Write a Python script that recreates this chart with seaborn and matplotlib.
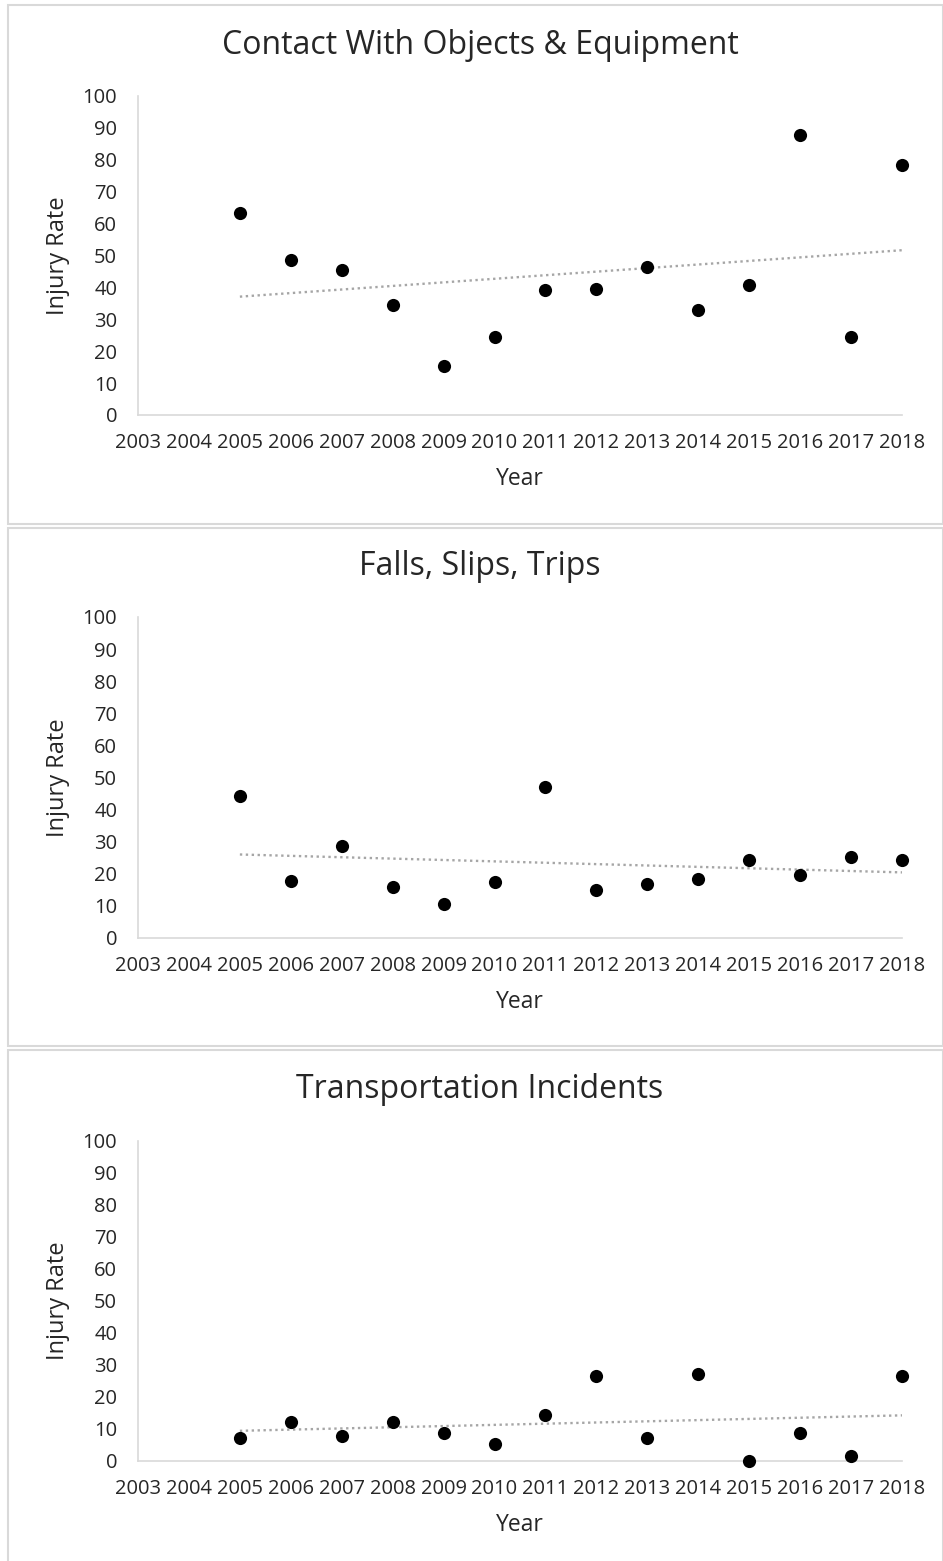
import numpy as np
import pandas as pd
import matplotlib
matplotlib.use("Agg")
import matplotlib.pyplot as plt
import seaborn as sns
from matplotlib.patches import Rectangle

# values
years = [2005, 2006, 2007, 2008, 2009, 2010, 2011, 2012, 2013, 2014, 2015, 2016, 2017, 2018]
contact = [63.3, 48.6, 45.5, 34.5, 15.4, 24.5, 39.2, 39.5, 46.4, 32.9, 40.8, 87.8, 24.5, 78.4]
falls = [44.2, 17.8, 28.7, 15.9, 10.6, 17.4, 47.0, 15.0, 16.8, 18.4, 24.3, 19.6, 25.2, 24.3]
transport = [7.2, 12.2, 7.8, 12.2, 8.8, 5.3, 14.4, 26.6, 7.2, 27.2, 0.0, 8.8, 1.6, 26.6]

titles = ["Contact With Objects & Equipment", "Falls, Slips, Trips", "Transportation Incidents"]
series = [contact, falls, transport]
x_ticks = list(range(2003, 2019))
y_ticks = list(range(0, 101, 10))

sns.set_theme(style="white")
plt.rcParams['font.family'] = ['Open Sans', 'DejaVu Sans']

W, H = 943, 1561
fig = plt.figure(figsize=(W / 100, H / 100), dpi=100)

# pixel layout of each panel: (box_top, box_bottom, axis_top, axis_bottom, title_y)
panels = [
    (5, 524, 96, 415, 45),
    (528, 1046, 617, 938, 567),
    (1050, 1566, 1141, 1461, 1090),
]
ax_left, ax_right = 138, 902
grey = "#d9d9d9"

for (bt, bb, at, ab, ty), title, vals in zip(panels, titles, series):
    fig.patches.append(Rectangle((8 / W, 1 - bb / H), (W - 8) / W, (bb - bt) / H,
                                 transform=fig.transFigure, fill=False,
                                 edgecolor=grey, linewidth=1.5))
    ax = fig.add_axes([ax_left / W, 1 - ab / H, (ax_right - ax_left) / W, (ab - at) / H])
    df = pd.DataFrame({"Year": years, "Injury Rate": vals})
    sns.regplot(data=df, x="Year", y="Injury Rate", ax=ax, scatter=False, ci=None,
                truncate=True, line_kws=dict(color="#a6a6a6", linestyle=(0, (1, 1.5)), linewidth=1.7))
    sns.scatterplot(data=df, x="Year", y="Injury Rate", ax=ax, color="black",
                    s=90, edgecolor="black", linewidth=0, zorder=3, clip_on=False)
    ax.set_xlim(2003, 2018)
    ax.set_ylim(0, 100)
    ax.set_xticks(x_ticks)
    ax.set_yticks(y_ticks)
    ax.tick_params(axis="both", length=0, labelsize=14.5, colors="#262626")
    ax.tick_params(axis="y", pad=15)
    ax.tick_params(axis="x", pad=13)
    for side in ["top", "right"]:
        ax.spines[side].set_visible(False)
    for side in ["left", "bottom"]:
        ax.spines[side].set_color(grey)
        ax.spines[side].set_linewidth(1.2)
    ax.set_xlabel("Year", fontsize=16.5, color="#262626", labelpad=10)
    ax.set_ylabel("Injury Rate", fontsize=17, color="#262626", labelpad=9)
    fig.text(480 / W, 1 - ty / H, title, ha="center", va="center", fontsize=23, color="#262626")

fig.savefig("out.png", dpi=100)
